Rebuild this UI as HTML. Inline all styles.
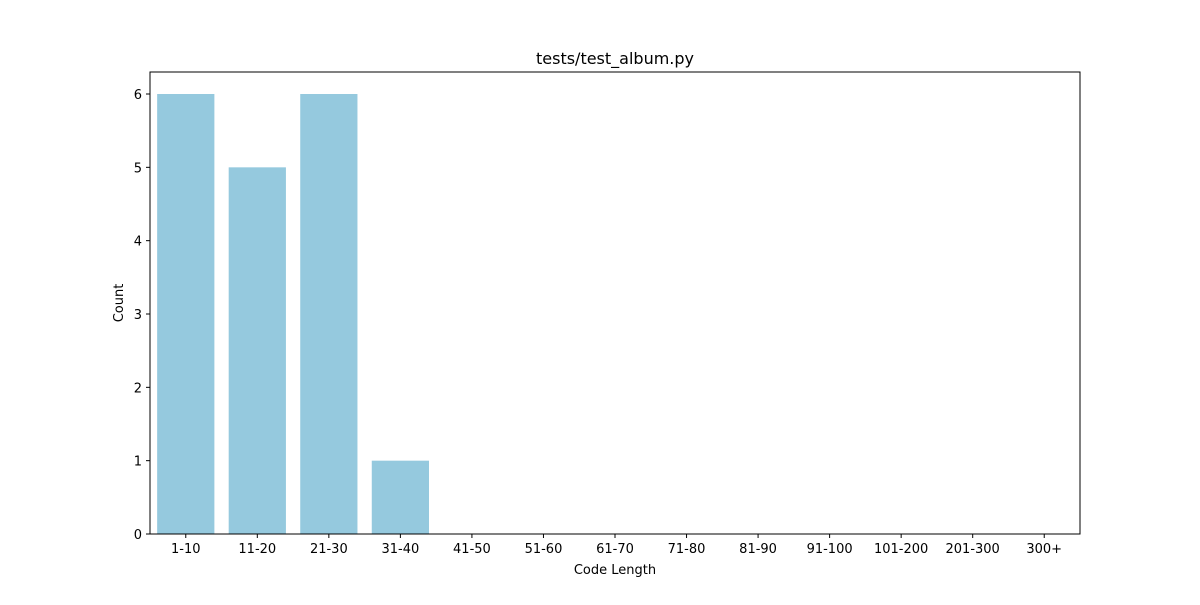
<!DOCTYPE html>
<html><head><meta charset="utf-8"><style>
body{margin:0;background:#fff;font-family:"Liberation Sans","DejaVu Sans",sans-serif;}
svg text{font-family:"DejaVu Sans","Liberation Sans",sans-serif;fill:#000;}
</style></head><body>
<svg id="chart" width="1200" height="600">
<text x="615" y="64" font-size="16" text-anchor="middle">tests/test_album.py</text>
<text x="615" y="574" font-size="13" text-anchor="middle">Code Length</text>
<text transform="translate(123,303) rotate(-90)" font-size="13" text-anchor="middle">Count</text>
<g id="bars"></g><g id="xt"></g><g id="yt"></g>
<rect x="150" y="72" width="930" height="462" fill="none" stroke="#000" stroke-width="1"/>
</svg>
<script>
const categories=["1-10","11-20","21-30","31-40","41-50","51-60","61-70","71-80","81-90","91-100","101-200","201-300","300+"];
const counts=[6,5,6,1,0,0,0,0,0,0,0,0,0];
const yTicks=[0,1,2,3,4,5,6];
const L=150,R=1080,T=72,B=534,yMax=6.3;
const ns="http://www.w3.org/2000/svg";
const step=(R-L)/categories.length;
const xs=i=>L+step*(i+0.5);
const ys=v=>B-(v/yMax)*(B-T);
function mk(t,a,p){const e=document.createElementNS(ns,t);for(const k in a)e.setAttribute(k,a[k]);p.appendChild(e);return e;}
const gb=document.getElementById('bars'),gx=document.getElementById('xt'),gy=document.getElementById('yt');
categories.forEach((c,i)=>{
  const bw=step*0.8;
  const r=mk('rect',{x:xs(i)-bw/2,y:ys(counts[i]),width:bw,height:B-ys(counts[i]),fill:'#95c9de'},gb);
  
  
  const tk=mk('line',{x1:xs(i),x2:xs(i),y1:B,y2:B+4,stroke:'#000'},gx);
  
  
  const t=mk('text',{x:xs(i),y:B+19,'font-size':13,'text-anchor':'middle'},gx);
  t.textContent=c;
  
  
});
yTicks.forEach(v=>{
  const tk=mk('line',{x1:L-4,x2:L,y1:ys(v),y2:ys(v),stroke:'#000'},gy);
  
  
  const t=mk('text',{x:L-8,y:ys(v)+5,'font-size':13,'text-anchor':'end'},gy);
  t.textContent=v;
  
  
});
</script>
</body></html>
